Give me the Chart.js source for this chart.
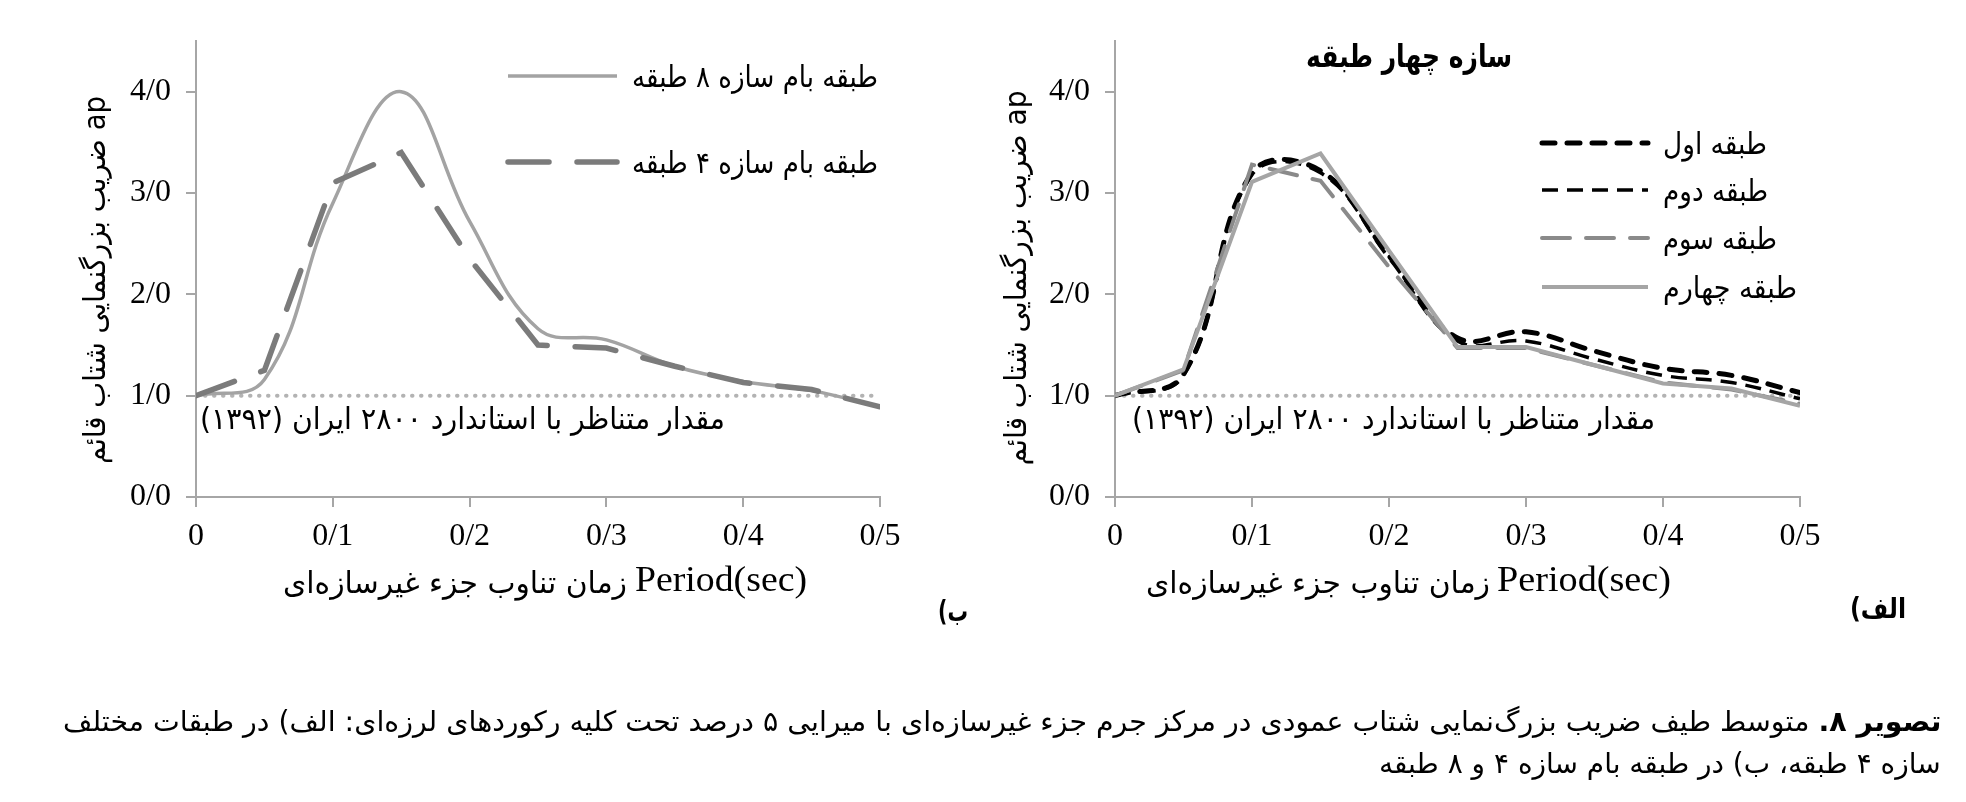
<!DOCTYPE html>
<html>
<head>
<meta charset="utf-8">
<script src="https://cdn.jsdelivr.net/npm/chart.js@4.4.1/dist/chart.umd.min.js"></script>
<style>
  html, body { margin: 0; padding: 0; background: #fff; }
  #wrap { position: relative; width: 1966px; height: 802px; overflow: hidden; }
  #wrap canvas { position: absolute; left: 0; top: 0; }
  .cap {
    position: absolute; right: 25px; white-space: nowrap; direction: rtl;
    font-family: "DejaVu Sans", sans-serif; font-size: 28px; line-height: 40px;
    color: #000; transform-origin: right center;
  }
</style>
</head>
<body>
<div id="wrap">
  <canvas id="chartB" width="1966" height="802"></canvas>
  <canvas id="chartA" width="1966" height="802"></canvas>
  <div class="cap" id="cap1" data-w="1878" style="top:702px"><b>تصویر ۸.</b> متوسط طیف ضریب بزرگ‌نمایی شتاب عمودی در مرکز جرم جزء غیرسازه‌ای با میرایی ۵ درصد تحت کلیه رکوردهای لرزه‌ای: الف) در طبقات مختلف</div>
  <div class="cap" id="cap2" data-w="562" style="top:744px">سازه ۴ طبقه، ب) در طبقه بام سازه ۴ و ۸ طبقه</div>
</div>
<script>
// --- data ---
const periods = [0, 0.05, 0.1, 0.15, 0.2, 0.25, 0.3, 0.35, 0.4, 0.45, 0.5];

// (الف) four-storey building, each floor
const floorNames = ['طبقه اول', 'طبقه دوم', 'طبقه سوم', 'طبقه چهارم'];
const floor1 = [1.00, 1.21, 3.20, 3.22, 2.38, 1.57, 1.63, 1.44, 1.27, 1.20, 1.03];
const floor2 = [1.00, 1.20, 3.18, 3.20, 2.36, 1.54, 1.54, 1.36, 1.20, 1.13, 0.97];
const floor3 = [1.00, 1.25, 3.28, 3.12, 2.27, 1.47, 1.47, 1.30, 1.13, 1.06, 0.92];
const floor4 = [1.00, 1.26, 3.11, 3.39, 2.43, 1.48, 1.48, 1.30, 1.12, 1.07, 0.90];

// (ب) roof of 8- and 4-storey buildings
const roofNames = ['طبقه بام سازه ۸ طبقه', 'طبقه بام سازه ۴ طبقه'];
const roof8 = [1.00, 1.16, 2.90, 4.00, 2.72, 1.66, 1.55, 1.29, 1.14, 1.05, 0.89];
const roof4 = [1.00, 1.25, 3.10, 3.40, 2.35, 1.50, 1.47, 1.29, 1.13, 1.06, 0.89];

// standard 2800 value
const stdPeriods = [0, 0.5];
const stdValues = [1.0, 1.0];

const xTicks = [0, 0.1, 0.2, 0.3, 0.4, 0.5];
const xTickLabels = ['0', '0/1', '0/2', '0/3', '0/4', '0/5'];
const yTicks = [0, 1, 2, 3, 4];
const yTickLabels = ['0/0', '1/0', '2/0', '3/0', '4/0'];

// --- styles ---
const axisColor = '#a6a6a6';
const faFont = '"DejaVu Sans", sans-serif';
const numFont = '"Liberation Serif", "Times New Roman", serif';

const toPoints = (xs, ys) => xs.map((x, i) => ({ x: x, y: ys[i] }));

function drawText(ctx, t) {
    ctx.save();
    ctx.font = (t.bold ? 'bold ' : '') + (t.size || 30) + 'px ' + (t.family || faFont);
    ctx.fillStyle = t.color || '#000';
    ctx.textBaseline = 'middle';
    ctx.direction = t.dir || 'ltr';
    ctx.textAlign = t.align || 'center';
    ctx.translate(t.x, t.y);
    if (t.rotate) ctx.rotate(t.rotate);
    if (t.width) {
        const m = ctx.measureText(t.text).width;
        if (m > 0) ctx.scale(t.width / m, 1);
    }
    ctx.fillText(t.text, 0, 0);
    ctx.restore();
}

// legend samples, axis titles and notes
const decorPlugin = {
    id: 'decor',
    afterDraw(chart, args, opts) {
        const ctx = chart.ctx;
        (opts.legend || []).forEach(item => {
            const ds = chart.data.datasets[item.dataset];
            ctx.save();
            ctx.strokeStyle = ds.borderColor;
            ctx.lineWidth = ds.borderWidth;
            ctx.setLineDash(ds.borderDash || []);
            ctx.lineCap = ds.borderCapStyle || 'butt';
            ctx.beginPath();
            ctx.moveTo(item.x0, item.y);
            ctx.lineTo(item.x1, item.y);
            ctx.stroke();
            ctx.restore();
            drawText(ctx, { text: ds.label, x: item.x1 + 15, y: item.y + 3, align: 'left', width: item.w });
        });
        (opts.texts || []).forEach(t => drawText(ctx, t));
    }
};

function makeScales() {
    return {
        x: {
            type: 'linear', min: 0, max: 0.5,
            afterBuildTicks: s => { s.ticks = xTicks.map(v => ({ value: v })); },
            afterFit: s => { s.height = 60; },
            ticks: {
                callback: (v, i) => xTickLabels[i],
                font: { family: numFont, size: 32 }, color: '#000',
                padding: 10, maxRotation: 0, autoSkip: false
            },
            grid: { drawOnChartArea: false, drawTicks: true, tickLength: 10, color: axisColor, lineWidth: 2 },
            border: { display: true, color: axisColor, width: 2 }
        },
        y: {
            type: 'linear', min: 0, max: 4.5,
            afterBuildTicks: s => { s.ticks = yTicks.map(v => ({ value: v })); },
            afterFit: s => { s.width = 100; },
            ticks: {
                callback: (v, i) => yTickLabels[i],
                font: { family: numFont, size: 32 }, color: '#000',
                padding: 15, autoSkip: false
            },
            grid: { drawOnChartArea: false, drawTicks: true, tickLength: 10, color: axisColor, lineWidth: 2 },
            border: { display: true, color: axisColor, width: 2 }
        }
    };
}

const stdNote = 'مقدار متناظر با استاندارد ۲۸۰۰ ایران (۱۳۹۲)';
const yTitle = 'ضریب بزرگنمایی شتاب قائم ap';
const xTitleFa = 'زمان تناوب جزء غیرسازه\u200cای';
const xTitleEn = 'Period(sec)';

const stdDataset = {
    label: 'std',
    borderColor: '#b3b3b3', borderWidth: 4, borderDash: [0.5, 8.5], borderCapStyle: 'round',
    pointRadius: 0, tension: 0
};

const baseOptions = {
    responsive: false, animation: false, devicePixelRatio: 1,
    plugins: { legend: { display: false }, tooltip: { enabled: false } },
    elements: { point: { radius: 0 } }
};

// --- chart (ب), left ---
new Chart(document.getElementById('chartB'), {
    type: 'line',
    data: {
        datasets: [
            {
                label: roofNames[1], data: toPoints(periods, roof4),
                borderColor: '#7b7b7b', borderWidth: 5.5, borderDash: [41, 28], borderCapStyle: 'round',
                tension: 0
            },
            {
                label: roofNames[0], data: toPoints(periods, roof8),
                borderColor: '#a3a3a3', borderWidth: 3.5, tension: 0.4
            },
            Object.assign({}, stdDataset, { data: toPoints(stdPeriods, stdValues) })
        ]
    },
    options: Object.assign({}, baseOptions, {
        layout: { padding: { left: 96, right: 1086, top: 41, bottom: 245 } },
        scales: makeScales(),
        plugins: Object.assign({}, baseOptions.plugins, {
            decor: {
                legend: [
                    { dataset: 1, x0: 508, x1: 617, y: 76, w: 246 },
                    { dataset: 0, x0: 508, x1: 617, y: 162, w: 246 }
                ],
                texts: [
                    { text: stdNote, x: 200, y: 421, align: 'left', dir: 'rtl', width: 525 },
                    { text: yTitle, x: 97, y: 280, rotate: -Math.PI / 2, size: 30, width: 368 },
                    { text: xTitleFa, x: 627, y: 585, align: 'right', dir: 'rtl', width: 344 },
                    { text: xTitleEn, x: 635, y: 582, align: 'left', family: numFont, size: 36, width: 172 },
                    { text: 'ب)', x: 953, y: 614, bold: true, size: 28, dir: 'rtl', width: 30 }
                ]
            }
        })
    }),
    plugins: [decorPlugin]
});

// --- chart (الف), right ---
new Chart(document.getElementById('chartA'), {
    type: 'line',
    data: {
        datasets: [
            {
                label: floorNames[3], data: toPoints(periods, floor4),
                borderColor: '#a5a5a5', borderWidth: 4, tension: 0
            },
            {
                label: floorNames[2], data: toPoints(periods, floor3),
                borderColor: '#8a8a8a', borderWidth: 4, borderDash: [28, 16], borderCapStyle: 'round',
                tension: 0
            },
            {
                label: floorNames[1], data: toPoints(periods, floor2),
                borderColor: '#000', borderWidth: 3.5, borderDash: [16, 9],
                tension: 0.4
            },
            {
                label: floorNames[0], data: toPoints(periods, floor1),
                borderColor: '#000', borderWidth: 5, borderDash: [13, 12], borderCapStyle: 'round',
                tension: 0.4
            },
            Object.assign({}, stdDataset, { data: toPoints(stdPeriods, stdValues) })
        ]
    },
    options: Object.assign({}, baseOptions, {
        layout: { padding: { left: 1015, right: 166, top: 41, bottom: 245 } },
        scales: makeScales(),
        plugins: Object.assign({}, baseOptions.plugins, {
            decor: {
                legend: [
                    { dataset: 3, x0: 1542, x1: 1648, y: 143, w: 104 },
                    { dataset: 2, x0: 1542, x1: 1648, y: 190, w: 105 },
                    { dataset: 1, x0: 1542, x1: 1648, y: 238, w: 114 },
                    { dataset: 0, x0: 1542, x1: 1648, y: 287, w: 134 }
                ],
                texts: [
                    { text: 'سازه چهار طبقه', x: 1409, y: 59, bold: true, size: 32, dir: 'rtl', width: 206 },
                    { text: stdNote, x: 1132, y: 421, align: 'left', dir: 'rtl', width: 523 },
                    { text: yTitle, x: 1018, y: 278, rotate: -Math.PI / 2, size: 30, width: 375 },
                    { text: xTitleFa, x: 1490, y: 585, align: 'right', dir: 'rtl', width: 344 },
                    { text: xTitleEn, x: 1497, y: 582, align: 'left', family: numFont, size: 36, width: 174 },
                    { text: 'الف)', x: 1878, y: 611, bold: true, size: 28, dir: 'rtl', width: 56 }
                ]
            }
        })
    }),
    plugins: [decorPlugin]
});

// --- fit caption lines to their measured widths ---
document.querySelectorAll('.cap').forEach(el => {
    const target = parseFloat(el.dataset.w);
    const w = el.offsetWidth;
    if (w > 0) el.style.transform = 'scaleX(' + (target / w) + ')';
});
</script>
</body>
</html>
